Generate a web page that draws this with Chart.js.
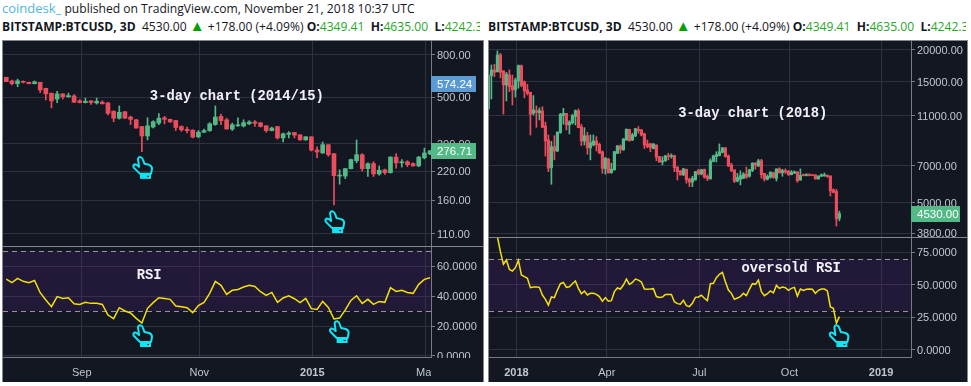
<!DOCTYPE html>
<html>
<head>
<meta charset="utf-8">
<script src="https://cdn.jsdelivr.net/npm/chart.js@4"></script>
<style>
    html, body { margin: 0; padding: 0; background: #fff; }
    body { position: relative; width: 971px; height: 386px; overflow: hidden; font-family: "Open Sans", sans-serif; font-size: 12.1px; color: #131722; }
    .frame { position: absolute; top: 40px; height: 342px; background: #85878c; }
    canvas { position: absolute; background: #131722; }
    .line { position: absolute; white-space: nowrap; overflow: hidden; height: 18px; line-height: 18px; }
    .brand { color: #4db5e8; font-size: 13px; }
    .up { color: #1fa81f; }
    .tri { color: #00a000; font-size: 15px; line-height: 12px; }
    b { font-weight: 700; }
</style>
</head>
<body>
<div class="line" style="left:2px;top:-1px;width:480px"><span class="brand">coindesk_</span> published on TradingView.com, November 21, 2018 10:37 UTC</div>
<div class="line" style="left:2px;top:18px;width:478px"><b>BITSTAMP:BTCUSD, 3D</b>&nbsp; 4530.00 <span class="tri">▲</span> +178.00 (+4.09%) <b>O:</b><span class="up">4349.41</span> &nbsp;<b>H:</b><span class="up">4635.00</span> &nbsp;<b>L:</b><span class="up">4242.3</span></div>
<div class="line" style="left:488px;top:18px;width:478px"><b>BITSTAMP:BTCUSD, 3D</b>&nbsp; 4530.00 <span class="tri">▲</span> +178.00 (+4.09%) <b>O:</b><span class="up">4349.41</span> &nbsp;<b>H:</b><span class="up">4635.00</span> &nbsp;<b>L:</b><span class="up">4242.3</span></div>
<div class="frame" style="left:2px;width:482px"></div>
<div class="frame" style="left:488px;width:480px"></div>
<canvas id="leftPrice" width="480" height="205" style="left:3px;top:41px"></canvas>
<canvas id="leftRsi" width="480" height="135" style="left:3px;top:247px"></canvas>
<canvas id="rightPrice" width="478" height="196" style="left:489px;top:41px"></canvas>
<canvas id="rightRsi" width="478" height="144" style="left:489px;top:238px"></canvas>
<script>
// 2014/15 candles
const leftOpen = [625,600,582,597,591,582,591,553,524,491,520,504,508,481,472,481,470,474,470,429,397,426,402,390,362,326,360,376,399,392,387,362,351,348,323,340,346,370,405,390,352,365,364,373,381,377,365,346,362,319,332,339,330,312,323,279,270,296,268,209,209,227,248,265,227,240,214,224,217,258,242,245,240,234,256,267];
const leftClose = [595,582,601,591,582,594,543,520,481,520,504,510,474,472,479,472,479,466,419,397,424,397,392,356,326,365,382,397,392,381,358,349,346,322,340,346,373,402,386,352,369,369,378,381,375,362,346,356,319,334,337,329,312,323,279,273,296,265,210,211,227,251,265,227,240,214,223,217,258,242,245,237,234,258,270,276.71];
const leftHigh = [625,606,612,600,593,600,591,553,524,535,520,524,516,488,496,482,496,481,473,431,455,428,406,392,362,399,386,418,405,393,387,365,360,349,346,352,378,455,416,397,376,399,390,386,387,379,365,360,362,337,342,339,331,324,323,289,305,296,268,224,228,252,312,268,242,245,234,226,259,268,251,248,242,260,285,277];
const leftLow = [595,574,563,587,580,580,527,486,445,472,491,500,472,470,470,462,464,464,412,382,393,396,370,355,274,312,356,369,373,379,346,343,337,319,320,338,343,367,369,352,346,362,360,370,362,360,340,345,315,305,319,319,311,311,276,256,269,260,152,191,203,226,242,221,208,208,211,213,216,228,231,232,233,232,253,265];
const leftRsiValues = [51.3,48.9,51.8,49.8,48.9,50.4,42.2,37.3,32.9,39.6,38.4,38.9,34.9,34.4,35.8,35.1,35.1,34.4,27.3,24.9,32.2,30,28.7,25.1,22,31.8,35.6,38.9,38.4,37.8,33.3,32.9,32.2,28.9,33.6,35.8,41.8,49.8,47.1,41.1,43.8,44.4,46,47.1,46.4,42.9,40.4,42.4,35.8,38.7,40.2,38.2,35.6,38.4,31.6,31.1,36.4,32.4,24.7,25.3,30.7,37.1,40.2,35.1,37.8,34.4,36.4,35.8,45.6,43.1,43.8,42.4,41.8,47.8,51.1,52.2];

// 2018 candles
const rightOpen = [11780,15840,16680,16400,19110,16560,14560,15940,14470,13920,15100,17360,14990,13920,13630,11260,11530,11310,11500,10040,8840,6880,8320,8000,9440,11030,11260,10130,10330,10930,11530,9980,8760,9190,8230,8450,8760,8500,7950,6800,7430,6570,6740,7840,8380,8080,8840,9740,8840,9170,9740,9680,9340,8530,8530,8180,8450,7600,7240,7320,7650,7600,7670,6910,6680,6440,6780,6190,6030,6150,6700,6490,6780,6360,6210,7280,7600,7670,7900,8230,7650,7050,6740,6090,6190,6240,6490,6360,6700,7160,6980,7320,6530,6190,6310,6570,6240,6800,6570,6700,6660,6450,6550,6620,6150,6440,6400,6440,6430,6440,6210,6360,6380,6410,6380,5620,5540,4349.41];
const rightClose = [15840,16680,16340,19110,16340,14560,16060,14320,13920,15240,17360,14470,13790,13500,11180,11610,11350,11530,9920,8760,6840,8320,8000,9480,11150,11260,10130,10400,11030,11530,9880,8760,9190,8230,8620,8760,8450,7840,6840,7490,6570,6780,7950,8380,8110,8920,9740,8790,9250,9800,9620,9250,8450,8320,8260,8530,7560,7240,7320,7650,7600,7650,6880,6630,6440,6800,6150,6030,6250,6630,6490,6740,6310,6230,7320,7650,7740,7940,8230,7600,6980,6700,6090,6290,6400,6490,6310,6740,7160,7050,7320,6450,6190,6360,6600,6290,6800,6570,6700,6600,6450,6600,6620,6110,6410,6400,6440,6400,6400,6210,6380,6450,6450,6340,5570,5490,4320,4530];
const rightHigh = [16060,17460,17580,19830,19400,16560,16340,16680,15940,15500,17460,17460,15100,14650,13630,13220,12040,11820,11950,10400,9250,8730,9190,9530,11260,11780,11260,10530,11150,11610,11710,10200,9880,9480,9250,9250,9110,8590,8000,7540,7490,7160,7980,8420,8450,8960,9780,9740,9400,9830,9990,9740,9400,8840,8590,8560,8450,7620,7600,7700,7840,7790,7700,6930,6700,6840,6780,6250,6360,6650,6780,6780,6780,6440,7450,7700,7950,8530,8260,8260,7720,7160,6740,6530,6680,6570,6910,6780,7200,7200,7420,7420,6530,6440,6630,6600,6800,6870,6780,6800,6700,6700,6680,6630,6800,6490,6510,6510,6450,6440,6380,6490,6550,6440,6380,5670,5650,4635];
const rightLow = [11610,12820,15700,16400,15540,11180,12600,13700,12150,13040,14140,14320,12960,13300,9250,11090,9920,10600,9880,7640,6630,5910,7380,7950,9400,10200,9680,9340,10200,10130,9880,8400,8450,7770,7380,8380,8000,7840,6530,6480,6530,6530,6720,7800,7840,8050,8800,8730,8790,9110,9400,9170,8180,8230,7950,8150,7320,7220,7050,7280,7380,7490,6630,6150,6420,6400,5970,5790,5790,6130,6440,6440,6250,6110,6190,7240,7240,7650,7860,7560,6940,6630,6000,6040,5880,6220,6240,6310,6630,6780,6940,6250,6090,6150,6250,6250,6090,6530,6360,6530,6410,6440,6510,6020,6130,6380,6380,6380,6390,6190,6190,6340,6360,6290,5320,5470,4050,4242.3];
const rightRsiValues = [null,null,null,87,75.5,65.8,69.1,61.9,60.6,63.2,68.8,57.6,56.3,55,47.8,48.3,48.3,48.1,42.2,38.9,34.5,40.7,40.2,46,50.9,51.9,48.1,48.6,50.9,53,47.3,43.2,45.3,42.2,43.5,43.5,42.7,41,37.4,40.2,37.4,37.9,44.8,47.6,46.8,49.9,54.5,50.4,51.9,54.5,53.7,52.2,46.8,46.6,46.8,47.1,41,40.4,40.7,42.7,42.7,42.7,37.1,35.6,35.1,38.1,34,33.3,35.8,40.4,40.7,42,39.7,37.9,50.9,51.2,55.5,58.1,59.6,52.4,46,43.5,38.9,39.9,41,43.5,41.7,46.6,50.9,50.4,53.7,44.8,41.7,43.2,45.3,43.8,49.6,47.3,48.3,47.8,45.8,47.3,48.1,41.4,46.8,45.8,46.6,46.8,46.6,43.5,45.8,46.8,46.8,45.3,33,32,20.5,25.6];

// axis ticks
const leftPriceTicks = [800, 500, 300, 220, 160, 110];
const rightPriceTicks = [20000, 15000, 11000, 7000, 5000, 3800];
const leftRsiTicks = [60, 40, 20, 0];
const rightRsiTicks = [75, 50, 25, 0];
const leftMonthBars = [13.35, 34.16, 54.16, 74.2];
const leftMonthLabels = ['Sep', 'Nov', '2015', 'Mar'];
const rightMonthBars = [9.33, 39.47, 70.33, 100.33, 130.9];
const rightMonthLabels = ['2018', 'Apr', 'Jul', 'Oct', '2019'];

const BG = '#131722';
const GRID = '#2e323e';
const AXIS = '#787b86';
const LABEL = '#c3c6cc';
const UP = '#53b987';
const DOWN = '#eb4d5c';
const HAND = '#0ee6f2';
const handPath = new Path2D('M5 2Q6 -.5 8 .5Q9.5 1 10 3L11.5 7L16 8Q19 9 19 12L18 17L7 17L1 11Q-.5 9 1.5 7.5Q3 7 6 10Z');

// notes, price tags, hands and the RSI band all sit on the chart's own scales
const extras = {
    id: 'extras',
    beforeDatasetsDraw(chart, args, opts) {
        if (!opts.band) return;
        const { ctx, chartArea, scales } = chart;
        const top = scales.y.getPixelForValue(opts.band[1]);
        const bottom = scales.y.getPixelForValue(opts.band[0]);
        ctx.save();
        ctx.fillStyle = 'rgba(130,30,190,0.14)';
        ctx.fillRect(chartArea.left, top, chartArea.width, bottom - top);
        ctx.strokeStyle = '#98949f';
        ctx.setLineDash([5, 4]);
        [top, bottom].forEach(y => {
            ctx.beginPath();
            ctx.moveTo(chartArea.left, Math.round(y) + 0.5);
            ctx.lineTo(chartArea.right, Math.round(y) + 0.5);
            ctx.stroke();
        });
        ctx.restore();
    },
    afterDatasetsDraw(chart, args, opts) {
        // cut off y labels that would run below the pane, x labels come after this
        if (!opts.band) return;
        const { ctx, chartArea, width, height } = chart;
        ctx.fillStyle = BG;
        ctx.fillRect(0, chartArea.bottom + 1, width, height - chartArea.bottom - 1);
    },
    afterDraw(chart, args, opts) {
        const { ctx, chartArea, width, height, scales } = chart;
        ctx.save();
        if (opts.band) {
            ctx.fillStyle = BG;
            ctx.fillRect(chartArea.right, chartArea.bottom + 1, width - chartArea.right, height - chartArea.bottom - 1);
        }
        (opts.hands || []).forEach(h => {
            const x = scales.x.getPixelForValue(h.bar);
            const y = scales.y.getPixelForValue(h.value);
            ctx.save();
            ctx.translate(x - 10, y - 11);
            ctx.strokeStyle = HAND;
            ctx.lineWidth = 2;
            ctx.lineJoin = 'round';
            ctx.stroke(handPath);
            ctx.fillStyle = HAND;
            ctx.fillRect(7, 17, 11, 5);
            ctx.fillStyle = BG;
            ctx.fillRect(14, 19, 2, 1);
            ctx.restore();
        });
        ctx.textAlign = 'center';
        ctx.textBaseline = 'middle';
        (opts.notes || []).forEach(n => {
            ctx.font = 'bold 13.8px "Liberation Mono", monospace';
            ctx.fillStyle = '#f4f0fa';
            ctx.fillText(n.text, scales.x.getPixelForValue(n.bar), scales.y.getPixelForValue(n.value));
        });
        (opts.tags || []).forEach(t => {
            const y = Math.round(scales.y.getPixelForValue(t.value)) + t.nudge;
            ctx.fillStyle = t.color;
            ctx.fillRect(chartArea.right, y - 8, t.width, 16);
            ctx.fillStyle = '#fff';
            ctx.font = '11.5px "Liberation Sans", Arial, sans-serif';
            ctx.textAlign = 'left';
            ctx.fillText(t.value.toFixed(2), chartArea.right + 6, y + 0.5);
        });
        ctx.restore();
    }
};
Chart.register(extras);

function xScale(min, max, bars, labels, showLabels) {
    return {
        type: 'linear',
        min: min,
        max: max,
        offset: false,
        grid: { color: GRID, offset: false, drawTicks: showLabels, tickLength: 4, tickColor: AXIS },
        border: { display: showLabels, color: AXIS },
        afterBuildTicks: scale => { scale.ticks = bars.map(b => ({ value: b })); },
        afterFit: scale => {
            scale.paddingLeft = 0;
            scale.paddingRight = 0;
            scale.height = showLabels ? 25 : 0;
        },
        ticks: {
            display: showLabels,
            autoSkip: false,
            maxRotation: 0,
            padding: 5,
            z: 1,
            color: LABEL,
            font: ctx => ({
                family: '"Liberation Sans", Arial, sans-serif',
                size: 11,
                weight: ctx.tick && /^\d/.test(labels[bars.indexOf(ctx.tick.value)]) ? 'bold' : 'normal'
            }),
            callback: v => labels[bars.indexOf(v)]
        }
    };
}

function yScale(type, min, max, values, digits, axisWidth) {
    return {
        type: type,
        position: 'right',
        min: min,
        max: max,
        grid: { color: GRID, tickLength: 4, tickColor: AXIS },
        border: { color: AXIS },
        afterBuildTicks: scale => { scale.ticks = values.map(v => ({ value: v })); },
        afterFit: scale => {
            scale.width = axisWidth;
            scale.paddingTop = 0;
            scale.paddingBottom = 0;
        },
        ticks: {
            autoSkip: false,
            padding: 2,
            labelOffset: 1,
            color: LABEL,
            font: { family: '"Liberation Sans", Arial, sans-serif', size: 11 },
            callback: v => Number(v).toFixed(digits)
        }
    };
}

function priceChart(id, open, close, high, low, bodyWidth, x, y, extra) {
    const colors = close.map((c, i) => c >= open[i] ? UP : DOWN);
    new Chart(document.getElementById(id), {
        type: 'bar',
        data: {
            datasets: [
                { data: high.map((h, i) => ({ x: i, y: [low[i], h] })), backgroundColor: colors, barThickness: 1, grouped: false, order: 2 },
                { data: open.map((o, i) => ({ x: i, y: [o, close[i]] })), backgroundColor: colors, barThickness: bodyWidth, minBarLength: 1, grouped: false, order: 1 }
            ]
        },
        options: {
            responsive: false,
            animation: false,
            layout: { padding: 0 },
            plugins: { legend: { display: false }, tooltip: { enabled: false }, extras: extra },
            scales: { x: x, y: y }
        }
    });
}

function rsiChart(id, values, x, y, extra) {
    new Chart(document.getElementById(id), {
        type: 'line',
        data: {
            datasets: [{ data: values.map((v, i) => ({ x: i, y: v })), borderColor: '#f2e205', borderWidth: 1.5, pointRadius: 0, tension: 0 }]
        },
        options: {
            responsive: false,
            animation: false,
            layout: { padding: 0 },
            plugins: { legend: { display: false }, tooltip: { enabled: false }, extras: extra },
            scales: { x: x, y: y }
        }
    });
}

priceChart('leftPrice', leftOpen, leftClose, leftHigh, leftLow, 4,
    xScale(-0.58, 75.17, leftMonthBars, leftMonthLabels, false),
    yScale('logarithmic', 96.3, 934, leftPriceTicks, 2, 52),
    {
        notes: [{ text: '3-day chart (2014/15)', bar: 40.8, value: 506 }],
        hands: [{ bar: 24.2, value: 229 }, { bar: 58.2, value: 125.5 }],
        tags: [{ value: 574.24, color: '#5a9bd4', width: 45, nudge: -1 }, { value: 276.71, color: UP, width: 45, nudge: 0 }]
    });

rsiChart('leftRsi', leftRsiValues,
    xScale(-0.58, 75.17, leftMonthBars, leftMonthLabels, true),
    yScale('linear', -0.67, 72.7, leftRsiTicks, 4, 52),
    {
        band: [30, 70],
        notes: [{ text: 'RSI', bar: 25.3, value: 53.6 }],
        hands: [{ bar: 24.2, value: 13.3 }, { bar: 59, value: 16 }]
    });

priceChart('rightPrice', rightOpen, rightClose, rightHigh, rightLow, 2.5,
    xScale(0.2, 140.87, rightMonthBars, rightMonthLabels, false),
    yScale('logarithmic', 3665, 21700, rightPriceTicks, 2, 56),
    {
        notes: [{ text: '3-day chart (2018)', bar: 88.1, value: 11230 }],
        tags: [{ value: 4530, color: UP, width: 49, nudge: 0 }]
    });

rsiChart('rightRsi', rightRsiValues,
    xScale(0.2, 140.87, rightMonthBars, rightMonthLabels, true),
    yScale('linear', -5.4, 86, rightRsiTicks, 4, 56),
    {
        band: [30, 70],
        notes: [{ text: 'oversold RSI', bar: 100.9, value: 62.4 }],
        hands: [{ bar: 117, value: 10.7 }]
    });
</script>
</body>
</html>
